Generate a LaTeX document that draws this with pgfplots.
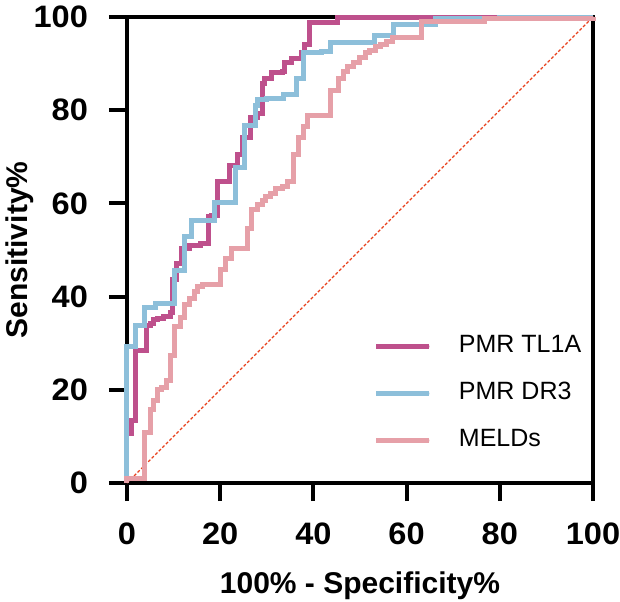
\documentclass[border=0pt]{standalone}
\usepackage{pgfplots}
\pgfplotsset{compat=1.18}
\usepackage{fontspec}
\setmainfont{Liberation Sans}
\newfontfamily\tickfont{Liberation Sans}[FakeStretch=1.05]
\definecolor{tlone}{HTML}{BE508C}
\definecolor{drthree}{HTML}{8DBFDA}
\definecolor{meld}{HTML}{E6A0A8}
\definecolor{diag}{HTML}{E8401C}
\begin{document}
\begin{tikzpicture}
\begin{axis}[
  name=ax, at={(0,0)}, anchor=south west,
  width=233pt, height=233pt, scale only axis,
  xmin=0, xmax=100, ymin=0, ymax=100,
  clip=false,
  axis line style={line width=2pt, black},
  xtick={0,20,40,60,80,100}, ytick={0,20,40,60,80,100},
  xtick pos=bottom, ytick pos=left, tick align=outside,
  major tick length=9pt,
  tick style={line width=2pt, black},
  /pgf/number format/assume math mode=true,
  ticklabel style={font=\tickfont\bfseries\fontsize{15.5}{15.5}\selectfont},
  xticklabel style={yshift=-7.5pt},
  yticklabel style={xshift=-7pt},
  xlabel={100\% - Specificity\%},
  ylabel={Sensitivity\%},
  label style={font=\bfseries\fontsize{15}{15}\selectfont},
  x label style={at={(axis description cs:0.5,0)}, anchor=base, yshift=-55pt},
  y label style={at={(axis description cs:0,0.5)}, anchor=base, yshift=49.5pt},
  legend style={at={(axis cs:53,31.8)}, anchor=north west, draw=none, fill=none,
    inner sep=0pt, outer sep=0pt,
    font=\fontsize{12.5}{12.5}\selectfont, row sep=12pt,
    nodes={inner sep=0pt, text height=9pt, text depth=2.5pt},
    /tikz/every odd column/.append style={column sep=13.5pt}},
  legend cell align=left,
  legend image code/.code={\path (0pt,0pt) -- (26.5pt,0pt); \draw[#1, line cap=round] (1.25pt,0pt) -- (25.25pt,0pt);},
]
\addplot[diag, line width=0.6pt, dash pattern=on 1.5pt off 1pt, forget plot] coordinates {(0,0) (100,100)};
\addplot[tlone, line width=2.5pt] coordinates {
(0,0) (0,10.7) (1.07,10.7) (1.07,13.5) (1.93,13.5) (1.93,28.5) (4.29,28.5) (4.29,33.9) (4.94,33.9) (4.94,34.3) (5.58,34.3) (5.58,35.0) (6.65,35.0) (6.65,35.4) (7.73,35.4) (7.73,35.8) (9.23,35.8) (9.23,36.5) (9.87,36.5) (9.87,43.6) (10.7,43.6) (10.7,47.2) (11.8,47.2) (11.8,50.4) (13.5,50.4) (13.5,50.9) (15.7,50.9) (15.7,51.5) (17.4,51.5) (17.4,57.1) (18.2,57.1) (18.2,57.5) (19.5,57.5) (19.5,64.6) (22.1,64.6) (22.1,68.2) (23.8,68.2) (23.8,70.4) (24.7,70.4) (24.7,74.2) (26.4,74.2) (26.4,78.5) (27.9,78.5) (27.9,79.4) (29.0,79.4) (29.0,85.8) (29.6,85.8) (29.6,86.9) (31.1,86.9) (31.1,88.0) (33.3,88.0) (33.3,88.2) (33.9,88.2) (33.9,90.3) (35.4,90.3) (35.4,91.0) (37.5,91.0) (37.5,92.3) (38.0,92.3) (38.0,94.2) (39.1,94.2) (39.1,98.9) (45.1,98.9) (45.1,100) (100,100)
};
\addlegendentry{PMR TL1A}
\addplot[drthree, line width=2.5pt] coordinates {
(0,0) (0,29.2) (1.72,29.2) (1.72,33.9) (3.86,33.9) (3.86,37.6) (6.01,37.6) (6.01,38.6) (10.3,38.6) (10.3,45.7) (12.4,45.7) (12.4,52.8) (13.9,52.8) (13.9,56.4) (18.7,56.4) (18.7,60.3) (23.2,60.3) (23.2,67.8) (25.3,67.8) (25.3,76.8) (27.5,76.8) (27.5,81.1) (28.1,81.1) (28.1,82.2) (30.0,82.2) (30.0,82.6) (33.5,82.6) (33.5,83.3) (36.3,83.3) (36.3,86.9) (37.8,86.9) (37.8,92.3) (41.8,92.3) (41.8,92.5) (43.6,92.5) (43.6,94.6) (53.2,94.6) (53.2,96.1) (57.1,96.1) (57.1,98.3) (66.1,98.3) (66.1,99.6) (80.0,99.6) (80.0,100) (100,100)
};
\addlegendentry{PMR DR3}
\addplot[meld, line width=2.5pt] coordinates {
(0,0) (0,1.07) (3.65,1.07) (3.65,10.9) (4.94,10.9) (4.94,15.7) (5.58,15.7) (5.58,17.8) (6.44,17.8) (6.44,20.0) (7.51,20.0) (7.51,20.6) (8.58,20.6) (8.58,22.1) (9.44,22.1) (9.44,27.3) (10.1,27.3) (10.1,33.5) (11.4,33.5) (11.4,35.6) (12.4,35.6) (12.4,38.2) (13.5,38.2) (13.5,39.7) (14.4,39.7) (14.4,41.2) (15.2,41.2) (15.2,42.1) (16.3,42.1) (16.3,42.7) (20.0,42.7) (20.0,45.9) (21.2,45.9) (21.2,48.1) (22.5,48.1) (22.5,50.4) (25.8,50.4) (25.8,54.7) (26.8,54.7) (26.8,58.6) (27.9,58.6) (27.9,59.7) (29.0,59.7) (29.0,60.7) (29.8,60.7) (29.8,61.4) (30.7,61.4) (30.7,62.2) (31.8,62.2) (31.8,63.1) (33.3,63.1) (33.3,63.7) (34.5,63.7) (34.5,64.6) (35.8,64.6) (35.8,70.4) (36.7,70.4) (36.7,74.2) (37.8,74.2) (37.8,76.4) (38.8,76.4) (38.8,78.8) (43.6,78.8) (43.6,84.3) (45.3,84.3) (45.3,86.9) (46.4,86.9) (46.4,88.2) (47.4,88.2) (47.4,89.3) (48.7,89.3) (48.7,90.3) (49.8,90.3) (49.8,91.4) (51.1,91.4) (51.1,92.3) (52.1,92.3) (52.1,92.9) (53.4,92.9) (53.4,93.6) (54.5,93.6) (54.5,94.2) (55.6,94.2) (55.6,94.8) (56.9,94.8) (56.9,95.7) (63.1,95.7) (63.1,99.1) (76.8,99.1) (76.8,99.6) (100,99.6) (100,100)
};
\addlegendentry{MELDs}
\end{axis}
\pgfresetboundingbox
\path (-63.5pt,-59pt) rectangle (246.5pt,241.5pt);
\end{tikzpicture}
\end{document}
